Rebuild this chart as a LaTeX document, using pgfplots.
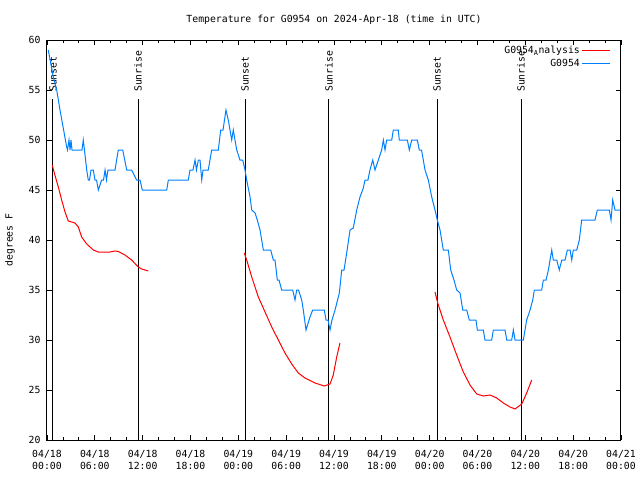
\documentclass[border=0pt]{standalone}
\usepackage{fontspec}
\setmainfont{DejaVu Sans Mono}
\usepackage{pgfplots}
\pgfplotsset{compat=1.18}
\newcommand{\gfont}{\fontsize{9.8bp}{12bp}\selectfont}
\definecolor{obsblue}{RGB}{0,128,255}
\definecolor{anared}{RGB}{255,0,0}

\begin{document}
\begin{tikzpicture}
\useasboundingbox (-47bp,-40bp) rectangle (593bp,440bp);
\begin{axis}[
    scale only axis,
    width=574bp, height=400bp,
    xmin=0, xmax=72, ymin=20, ymax=60,
    xtick={0,6,...,72},
    xticklabels={{04/18\\00:00},{04/18\\06:00},{04/18\\12:00},{04/18\\18:00},
                 {04/19\\00:00},{04/19\\06:00},{04/19\\12:00},{04/19\\18:00},
                 {04/20\\00:00},{04/20\\06:00},{04/20\\12:00},{04/20\\18:00},
                 {04/21\\00:00}},
    xticklabel style={align=center, font=\gfont, yshift=-7bp},
    yticklabel style={font=\gfont, xshift=-3bp},
    /pgf/number format/assume math mode=true,
    minor x tick num=2,
    ytick={20,25,...,60},
    tick align=inside,
    major tick length=5bp, minor tick length=3bp,
    every tick/.style={black, line width=0.8bp},
    axis line style={black, line width=1bp},
    every axis title/.style={at={(0.5,1)}, anchor=center, yshift=20bp, font=\gfont},
    title={Temperature for G0954 on 2024-Apr-18 (time in UTC)},
    every axis y label/.style={at={(0,0.5)}, xshift=-37bp, rotate=90, anchor=center, font=\gfont},
    ylabel={degrees F},
    legend style={at={(1,1)}, anchor=north east, xshift=-7bp, yshift=-2bp,
                  draw=none, fill=none, font=\gfont, row sep=0bp,
                  legend plot pos=right, cells={anchor=east}},
    legend image code/.code={\draw[#1] (0bp,0bp) -- (28bp,0bp);},
]
% sunrise / sunset lines
\addplot[black, line width=1bp, forget plot] coordinates {(0.75,20) (0.75,54.1)};
\addplot[black, line width=1bp, forget plot] coordinates {(11.42,20) (11.42,54.1)};
\addplot[black, line width=1bp, forget plot] coordinates {(24.84,20) (24.84,54.1)};
\addplot[black, line width=1bp, forget plot] coordinates {(35.37,20) (35.37,54.1)};
\addplot[black, line width=1bp, forget plot] coordinates {(48.92,20) (48.92,54.1)};
\addplot[black, line width=1bp, forget plot] coordinates {(59.46,20) (59.46,54.1)};
\node[rotate=90, anchor=west, inner sep=0pt, font=\gfont] at (axis cs:0.75,54.8) {Sunset};
\node[rotate=90, anchor=west, inner sep=0pt, font=\gfont] at (axis cs:11.42,54.8) {Sunrise};
\node[rotate=90, anchor=west, inner sep=0pt, font=\gfont] at (axis cs:24.84,54.8) {Sunset};
\node[rotate=90, anchor=west, inner sep=0pt, font=\gfont] at (axis cs:35.37,54.8) {Sunrise};
\node[rotate=90, anchor=west, inner sep=0pt, font=\gfont] at (axis cs:48.92,54.8) {Sunset};
\node[rotate=90, anchor=west, inner sep=0pt, font=\gfont] at (axis cs:59.46,54.8) {Sunrise};

% analysis (red), three segments
\addplot[anared, line width=1bp] coordinates {
(0.66,47.5) (0.92,46.7) (1.42,45.3) (1.84,44.0) (2.26,42.8) (2.67,41.9)
(3.51,41.7) (3.93,41.3) (4.35,40.3) (4.98,39.6) (5.81,39.0) (6.44,38.8)
(7.90,38.8) (8.53,38.9) (8.94,38.85) (9.78,38.5) (10.62,38.0) (11.45,37.3)
(11.88,37.1) (12.71,36.9)
};
\addplot[anared, line width=1bp, forget plot] coordinates {
(24.75,38.7) (25.05,38.0) (25.68,36.3) (26.51,34.3) (27.35,32.8) (28.19,31.3)
(29.02,30.0) (29.85,28.7) (30.70,27.6) (31.52,26.7) (32.36,26.2) (33.62,25.7)
(34.78,25.4) (35.50,25.6) (35.91,26.5) (36.34,28.3) (36.75,29.7)
};
\addplot[anared, line width=1bp, forget plot] coordinates {
(48.67,34.8) (49.01,33.7) (49.71,32.0) (50.55,30.3) (51.39,28.5) (52.22,26.8)
(53.06,25.5) (53.90,24.6) (54.73,24.4) (55.57,24.5) (56.41,24.2) (57.24,23.7)
(58.08,23.3) (58.71,23.1) (59.55,23.6) (60.17,24.7) (60.80,26.0)
};

% observations (blue)
\addplot[obsblue, line width=1bp] coordinates {
(0.16,59) (0.79,56.3) (1.22,55) (1.63,53) (2.47,49.3) (2.57,49) (2.76,50)
(2.89,49) (3.01,50) (3.14,49) (4.39,49) (4.55,50) (4.70,49) (4.98,47)
(5.18,46) (5.33,46) (5.52,47) (5.81,47) (6.02,46) (6.21,46) (6.44,45)
(6.86,46) (7.09,46) (7.28,47) (7.46,46) (7.65,47) (8.53,47) (8.94,49)
(9.50,49) (10.00,47) (10.62,47) (11.25,46) (11.67,46) (11.95,45) (15.02,45)
(15.22,46) (17.72,46) (17.94,47) (18.31,47) (18.57,48) (18.75,47) (18.98,48)
(19.19,48) (19.41,46) (19.57,47) (20.23,47) (20.66,49) (21.49,49) (21.79,51)
(22.08,51) (22.45,53) (22.74,52) (23.17,50) (23.37,51) (23.58,50) (23.80,49)
(24.21,48) (24.55,48) (24.84,47) (25.05,46) (25.47,44.3) (25.68,43)
(26.10,42.7) (26.38,42) (26.72,41) (27.14,39) (28.06,39) (28.39,38)
(28.60,38) (28.89,36) (29.10,36) (29.44,35) (30.82,35) (31.11,34) (31.32,35)
(31.55,35) (31.95,34) (32.15,33) (32.49,31) (32.99,32.3) (33.33,33)
(34.78,33) (35.00,32) (35.25,32) (35.50,31) (35.75,32) (36.13,33)
(36.67,34.7) (36.97,37) (37.26,37) (37.59,38.7) (38.01,41) (38.42,41.2)
(38.85,43) (39.26,44.3) (39.68,45.2) (39.89,46) (40.26,46) (40.51,47)
(40.86,48) (41.14,47) (41.56,48) (41.98,49) (42.19,50) (42.40,49) (42.61,50)
(43.24,50) (43.44,51) (44.07,51) (44.19,50) (45.20,50) (45.45,49) (45.75,50)
(46.45,50) (46.70,49) (46.98,49) (47.20,48) (47.42,47) (47.83,46)
(48.26,44.3) (48.67,43) (48.96,42) (49.30,41) (49.71,39) (50.34,39)
(50.64,37) (51.05,36) (51.39,35) (51.81,34.7) (52.15,33) (52.65,33)
(52.97,32) (53.81,32) (53.98,31) (54.73,31) (54.94,30) (55.78,30) (55.99,31)
(57.45,31) (57.67,30) (58.29,30) (58.50,31) (58.71,30) (59.75,30) (59.96,31)
(60.17,32) (60.59,33) (60.93,34) (61.13,35) (62.05,35) (62.26,36) (62.60,36)
(62.89,37) (63.10,38) (63.31,39) (63.51,38) (63.94,38) (64.26,37) (64.57,38)
(64.98,38) (65.27,39) (65.61,39) (65.82,38) (66.02,39) (66.45,39) (66.77,40)
(67.07,42) (68.74,42) (69.03,43) (70.54,43) (70.75,42) (70.96,44) (71.25,43)
(71.88,43)
};
\legend{G0954\textsubscript{A}nalysis, G0954}
\end{axis}
\end{tikzpicture}
\end{document}
